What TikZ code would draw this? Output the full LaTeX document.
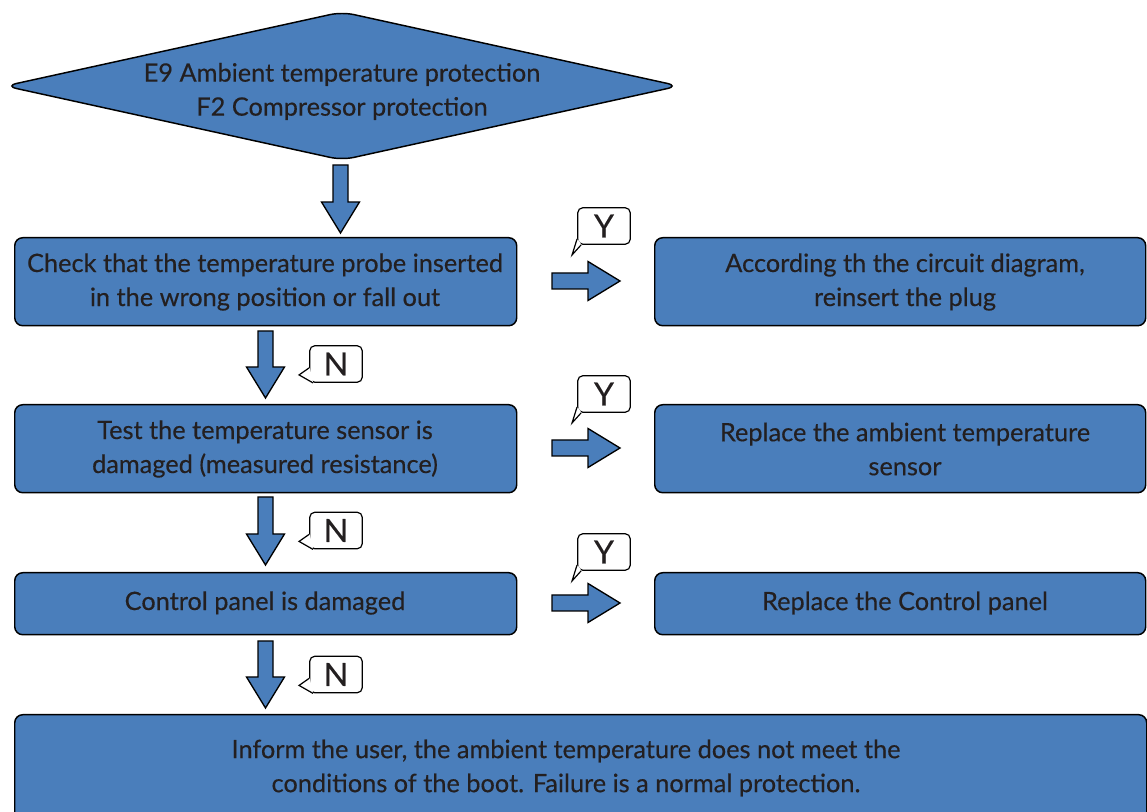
\documentclass[tikz,border=0pt]{standalone}
\usepackage{fontspec}
\setmainfont{Lato}
\newfontfamily\medfont{Lato}[FakeBold=0.35]
\usetikzlibrary{calc}
\definecolor{boxblue}{RGB}{74,126,187}
\definecolor{txt}{RGB}{35,31,32}
\newcommand\dnarrow[3]{\filldraw[arr] (#1-7.5,#2) -- (#1+7.5,#2) -- (#1+7.5,#3-31) -- (#1+19,#3-31) -- (#1,#3) -- (#1-19,#3-31) -- (#1-7.5,#3-31) -- cycle;}
\newcommand\rtarrow[1]{\filldraw[arr] (552,#1-8) -- (588,#1-8) -- (588,#1-19.5) -- (620,#1) -- (588,#1+19.5) -- (588,#1+8) -- (552,#1+8) -- cycle;}
\newcommand\ytail[1]{\fill[white] ($(#1.south west)+(0.7,-6)$) -- ($(#1.south west)+(-5,10)$) -- ($(#1.south west)+(4,-0.7)$) -- cycle;
  \draw[tailline] ($(#1.south west)+(0,-6)$) -- ($(#1.south west)+(-5,10)$) -- ($(#1.south west)+(4,0)$);}
\newcommand\ntail[1]{\fill[white] ($(#1.south west)+(0.7,-15)$) -- ($(#1.south west)+(-10,-8)$) -- ($(#1.south west)+(4,-0.7)$) -- cycle;
  \draw[tailline] ($(#1.south west)+(0,-15)$) -- ($(#1.south west)+(-10,-8)$) -- ($(#1.south west)+(4,0)$);}
\begin{document}
\begin{tikzpicture}[x=0.75pt,y=-0.75pt,
  blk/.style={draw=black,fill=boxblue,line width=1.1pt,rounded corners=6pt,anchor=north west,inner sep=0pt},
  lbl/.style={text=txt,align=center,font=\medfont\fontsize{19}{25.5}\selectfont,inner sep=0pt},
  arr/.style={draw=black,fill=boxblue,line width=1pt,line join=miter},
  callbox/.style={draw=black,fill=white,line width=0.9pt,rounded corners=4pt,inner sep=0pt,minimum width=39.5pt,minimum height=27.5pt,font=\medfont\fontsize{24}{24}\selectfont,text=txt},
  tailline/.style={draw=black,line width=0.9pt,line join=miter}]
\useasboundingbox (0,0) rectangle (1147,812);
% diamond
\filldraw[draw=black,fill=boxblue,line width=1.1pt,rounded corners=9pt] (5,86) -- (342,12) -- (679,86) -- (342,160) -- cycle;
\coordinate (dbot) at (342,160);
\node[lbl] (t0) at (342,91.5) {E9 Ambient temperature protection\\F2 Compressor protection};
% boxes
\node[blk,minimum width=376.5pt,minimum height=66pt] (b1) at (14,237) {};
\node[blk,minimum width=368.25pt,minimum height=66pt] (r1) at (654,237) {};
\node[blk,minimum width=376.5pt,minimum height=66pt] (b2) at (14,404) {};
\node[blk,minimum width=368.25pt,minimum height=66pt] (r2) at (654,404) {};
\node[blk,minimum width=376.5pt,minimum height=46.5pt] (b3) at (14,572) {};
\node[blk,minimum width=368.25pt,minimum height=46.5pt] (r3) at (654,572) {};
\node[blk,minimum width=849pt,minimum height=82.5pt] (b4) at (14,714) {};
% texts
\node[lbl] (t1) at (265,282) {Check that the temperature probe inserted\\in the wrong position or fall out};
\node[lbl] (u1) at (905,282) {According th the circuit diagram,\\reinsert the plug};
\node[lbl] (t2) at (265,449) {Test the temperature sensor is\\damaged (measured resistance)};
\node[lbl] (u2) at (905,449) {Replace the ambient temperature\\sensor};
\node[lbl] (t3) at (265,603) {Control panel is damaged};
\node[lbl] (u3) at (905,603) {Replace the Control panel};
\node[lbl] (t4) at (566,768) {Inform the user, the ambient temperature does not meet the\\conditions of the boot. Failure is a normal protection.};
% arrows
\dnarrow{340.5}{165}{233}
\dnarrow{265.5}{331}{398}
\dnarrow{265.5}{497}{565}
\dnarrow{265.5}{641}{708}
\rtarrow{281}
\rtarrow{448}
\rtarrow{603}
% callouts
\node[callbox] (y1) at (604,226) {Y};
\node[callbox] (y2) at (604,394) {Y};
\node[callbox] (y3) at (604,552) {Y};
\node[callbox] (n1) at (336,364) {N};
\node[callbox] (n2) at (336,530.5) {N};
\node[callbox] (n3) at (336,674.5) {N};
\ytail{y1}\ytail{y2}\ytail{y3}
\ntail{n1}\ntail{n2}\ntail{n3}
\end{tikzpicture}
\end{document}
